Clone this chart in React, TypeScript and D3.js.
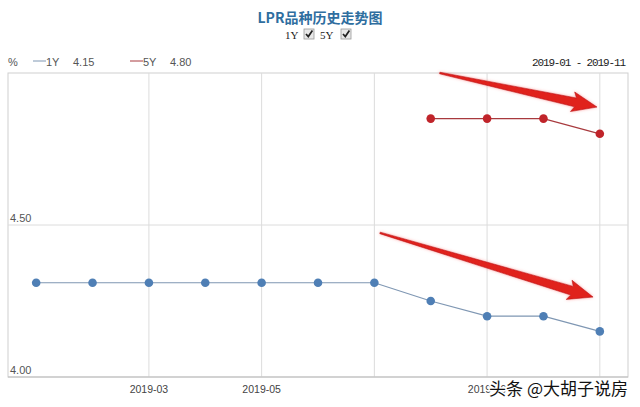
import React from "react"
import { scalePoint, scaleLinear, line } from "d3"

const months = [
  "2019-01", "2019-02", "2019-03", "2019-04", "2019-05", "2019-06",
  "2019-07", "2019-08", "2019-09", "2019-10", "2019-11",
]
const lpr1Y: (number | null)[] = [4.31, 4.31, 4.31, 4.31, 4.31, 4.31, 4.31, 4.25, 4.2, 4.2, 4.15]
const lpr5Y: (number | null)[] = [null, null, null, null, null, null, null, 4.85, 4.85, 4.85, 4.8]
const yTicks = [4.0, 4.5]
const gridMonths = ["2019-03", "2019-05", "2019-07", "2019-09", "2019-11"]
const labelMonths = ["2019-03", "2019-05", "2019-09"]
// annotation arrows, [monthIndex, value] from -> to
const arrows: [number, number][][] = [
  [[7.16, 5.0], [9.95, 4.888]],
  [[6.1, 4.474], [9.88, 4.263]],
]

const W = 640
const H = 407
const m = { top: 73, right: 12, bottom: 30, left: 8 }
const blue = "#4f7fb5"
const blueLine = "#7f97b3"
const red = "#c0242a"
const redLine = "#a83a3e"

const App = () => {
  // scales
  const x = scalePoint<string>()
    .domain(months)
    .range([m.left, W - m.right])
    .padding(0.5)
  const xi = scaleLinear()
    .domain([0, months.length - 1])
    .range([x(months[0])!, x(months[months.length - 1])!])
  const y = scaleLinear().domain([4.0, 5.0]).range([H - m.bottom, m.top])

  const gen = line<number | null>()
    .defined((d) => d != null)
    .x((_, i) => x(months[i])!)
    .y((d) => y(d as number))

  // arrow polygons
  const arrowPath = (a: [number, number][]) => {
    const [x0, y0] = [xi(a[0][0]), y(a[0][1])]
    const [x1, y1] = [xi(a[1][0]), y(a[1][1])]
    const dx = x1 - x0
    const dy = y1 - y0
    const L = Math.hypot(dx, dy)
    const ux = dx / L
    const uy = dy / L
    const nx = -uy
    const ny = ux
    const headLen = 22
    const bx = x1 - ux * headLen
    const by = y1 - uy * headLen
    const p = (px: number, py: number, w: number) =>
      `${px + nx * w},${py + ny * w}`
    return `M${p(x0, y0, 0.8)} L${p(bx, by, 4.5)} L${p(bx - ux * 3, by - uy * 3, 10)} L${x1},${y1} L${p(bx - ux * 3, by - uy * 3, -10)} L${p(bx, by, -4.5)} L${p(x0, y0, -0.8)} Z`
  }

  const plotBottom = H - m.bottom
  const plotRight = W - m.right

  return (
    <svg
      width={W}
      height={H}
      style={{ position: "absolute", left: 0, top: 0, background: "#fff" }}
      fontFamily="Arial, 'Liberation Sans', sans-serif"
    >
      <defs>
        <filter id="glow" x="-10%" y="-50%" width="120%" height="200%">
          <feGaussianBlur in="SourceAlpha" stdDeviation="1.6" />
          <feOffset dx="0" dy="0" result="b" />
          <feFlood floodColor="#ff6a6a" floodOpacity="0.6" />
          <feComposite in2="b" operator="in" />
          <feMerge>
            <feMergeNode />
            <feMergeNode in="SourceGraphic" />
          </feMerge>
        </filter>
        <linearGradient id="arrowGrad" x1="0" x2="1" y1="0" y2="0">
          <stop offset="0" stopColor="#8a1a1a" />
          <stop offset="1" stopColor="#e8201c" />
        </linearGradient>
      </defs>

      {/* title */}
      <text
        x={320}
        y={23}
        textAnchor="middle"
        fontSize={14}
        fontWeight="bold"
        fill="#2f6e9f"
        fontFamily="'Noto Sans CJK SC', serif"
      >
        LPR品种历史走势图
      </text>
      <g fontFamily="'Liberation Serif', serif" fontSize={11} fill="#222">
        <text x={285} y={39}>1Y</text>
        <text x={320} y={39}>5Y</text>
      </g>
      {[304, 341].map((cx) => (
        <g key={cx} transform={`translate(${cx},29)`}>
          <rect width={10} height={10} fill="#e8e8e8" stroke="#9a9a9a" strokeWidth={0.8} />
          <path d="M2,5 L4.3,7.6 L8.4,1.6" fill="none" stroke="#222" strokeWidth={1.7} />
        </g>
      ))}

      {/* legend */}
      <g fontSize={11} fill="#555">
        <text x={8} y={66}>%</text>
        <line x1={33} x2={46} y1={61} y2={61} stroke={blueLine} />
        <text x={46} y={66}>1Y</text>
        <text x={73} y={66}>4.15</text>
        <line x1={130} x2={143} y1={61} y2={61} stroke={redLine} />
        <text x={143} y={66}>5Y</text>
        <text x={170} y={66}>4.80</text>
      </g>
      <text
        x={626}
        y={66}
        textAnchor="end"
        fontSize={11}
        fill="#222"
        fontFamily="'Liberation Mono', monospace"
        textLength={94}
      >
        2019-01 - 2019-11
      </text>

      {/* grid */}
      <rect
        x={m.left}
        y={m.top}
        width={plotRight - m.left}
        height={plotBottom - m.top}
        fill="none"
        stroke="#cfcfcf"
      />
      {gridMonths.map((d) => (
        <line key={d} x1={x(d)} x2={x(d)} y1={m.top} y2={plotBottom} stroke="#dcdcdc" />
      ))}
      {yTicks.map((t) => (
        <g key={t}>
          <line x1={m.left} x2={plotRight} y1={y(t)} y2={y(t)} stroke={t === 4 ? "#bdbdbd" : "#dcdcdc"} />
          <text x={10} y={y(t) - 3} fontSize={11} fill="#555">
            {t.toFixed(2)}
          </text>
        </g>
      ))}
      {labelMonths.map((d) => (
        <text key={d} x={x(d)} y={393} textAnchor="middle" fontSize={10.5} fill="#444">
          {d}
        </text>
      ))}

      {/* series */}
      <path d={gen(lpr1Y) ?? ""} fill="none" stroke={blueLine} strokeWidth={1.2} />
      <path d={gen(lpr5Y) ?? ""} fill="none" stroke={redLine} strokeWidth={1.2} />
      {lpr1Y.map((v, i) =>
        v == null ? null : <circle key={"a" + i} cx={x(months[i])} cy={y(v)} r={4.3} fill={blue} />,
      )}
      {lpr5Y.map((v, i) =>
        v == null ? null : <circle key={"b" + i} cx={x(months[i])} cy={y(v)} r={4.3} fill={red} />,
      )}

      {/* annotation arrows */}
      {arrows.map((a, i) => (
        <path key={i} d={arrowPath(a)} fill="#e0201c" stroke="#b81414" strokeWidth={0.6} filter="url(#glow)" />
      ))}

      {/* watermark */}
      <text
        x={628}
        y={395}
        textAnchor="end"
        fontSize={17}
        fill="#111"
        stroke="#fff"
        strokeWidth={3}
        paintOrder="stroke"
        fontFamily="'Noto Sans CJK SC', sans-serif"
      >
        头条 @大胡子说房
      </text>
    </svg>
  )
}

export default App
